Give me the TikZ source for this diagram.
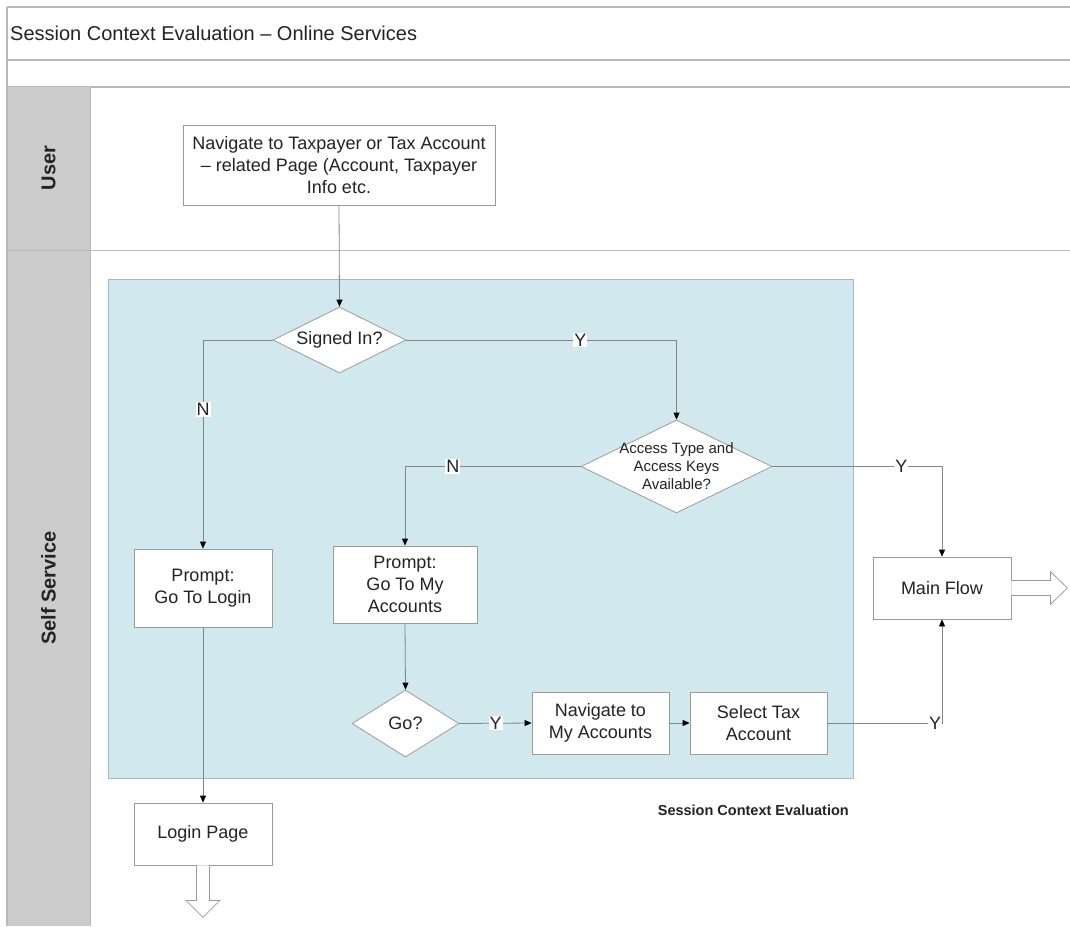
\documentclass[tikz,border=0pt]{standalone}
\usepackage{fontspec}
\setmainfont{Liberation Sans}
\usetikzlibrary{shapes.geometric,arrows.meta}

\definecolor{lanegray}{RGB}{204,204,204}
\definecolor{frameline}{RGB}{185,185,185}
\definecolor{poolblue}{RGB}{209,232,238}
\definecolor{pooledge}{RGB}{165,185,190}
\definecolor{boxedge}{RGB}{155,155,155}
\definecolor{wire}{RGB}{125,135,140}
\definecolor{ink}{RGB}{35,35,35}

\begin{document}
\begin{tikzpicture}[x=1pt,y=-1pt,
  txt/.style={font=\fontsize{18}{22}\selectfont, text=ink},
  stepbox/.style={draw=boxedge, fill=white, line width=0.8pt, align=center, inner sep=0pt, txt},
  decision/.style={diamond, draw=boxedge, fill=white, line width=0.8pt, inner sep=0pt, align=center, txt},
  flow/.style={draw=wire, line width=0.8pt, -{Triangle[length=7pt,width=6pt,color=black]}},
  yn/.style={fill=white, inner sep=1pt, txt},
  lanetitle/.style={rotate=90, text=ink, font=\bfseries\fontsize{20}{24}\selectfont},
  frame/.style={draw=frameline, line width=1.4pt},
  hollow/.style={draw=boxedge, fill=white, line width=0.8pt, line join=miter}
]
\useasboundingbox (0,0) rectangle (1070,926);

% header rows and lane grid
\draw[frame] (7,7) -- (1070,7);
\draw[frame] (7,60) -- (1070,60);
\draw[frame] (7,87) -- (1070,87);
\fill[lanegray] (7,87) rectangle (90,926);
\draw[frame] (7,7) -- (7,926);
\draw[draw=frameline, line width=0.8pt] (90,87) -- (90,926);
\draw[draw=frameline, line width=0.8pt] (7,250) -- (1070,250);

\node[anchor=west, inner sep=0pt, text=ink, font=\fontsize{20}{24}\selectfont] (title) at (10,33)
  {Session Context Evaluation – Online Services};
\node[lanetitle] (laneuser) at (48.5,168) {User};
\node[lanetitle] (laneself) at (48.5,588) {Self Service};

% session context group
\draw[fill=poolblue, draw=pooledge, line width=0.8pt] (108,279) rectangle (853,778);
\node[anchor=east, inner sep=0pt, text=ink, font=\bfseries\fontsize{14.5}{17}\selectfont] (poolname) at (849,810)
  {Session Context Evaluation};

% steps
\node[stepbox, minimum width=312, minimum height=80] (nav) at (339,165)
  {Navigate to Taxpayer or Tax Account\\– related Page (Account, Taxpayer\\Info etc.};
\node[decision, aspect=2, minimum width=133, minimum height=66] (signed) at (339.5,340) {Signed In?};
\node[decision, minimum width=191, minimum height=93,
  label={[text=ink, align=center, font=\fontsize{15}{18}\selectfont]center:Access Type and\\Access Keys\\Available?}]
  (access) at (676.5,466.5) {};
\node[stepbox, minimum width=138, minimum height=78] (login) at (203,588) {Prompt:\\Go To Login};
\node[stepbox, minimum width=144, minimum height=77] (pmy) at (405,584.5) {Prompt:\\Go To My\\Accounts};
\node[decision, aspect=1.6, minimum width=107, minimum height=67] (go) at (405.5,723.5) {Go?};
\node[stepbox, minimum width=137, minimum height=62] (navacc) at (600.5,723) {Navigate to\\My Accounts};
\node[stepbox, minimum width=137, minimum height=62] (sel) at (758.5,723) {Select Tax\\Account};
\node[stepbox, minimum width=138, minimum height=62] (main) at (942,588) {Main Flow};
\node[stepbox, minimum width=138, minimum height=62] (lpage) at (203,834) {Login Page};

% connectors
\draw[flow] (nav.south) -- (signed.north);
\draw[flow] (signed.east) -| node[yn, pos=0.322] {Y} (access.north);
\draw[flow] (signed.west) -| node[yn, pos=0.667] {N} (login.north);
\draw[flow] (access.west) -| node[yn, pos=0.364] {N} (pmy.north);
\draw[flow] (access.east) -| node[yn, pos=0.38] {Y} (main.north);
\draw[flow] (pmy.south) -- (go.north);
\draw[flow] (go.east) -- node[yn, pos=0.5] {Y} (navacc.west);
\draw[flow] (navacc.east) -- (sel.west);
\draw[flow] (sel.east) -| node[yn, pos=0.47] {Y} (main.south);
\draw[flow] (login.south) -- (lpage.north);

% off-page continuations
\draw[hollow] (main.east) ++(0,-7.5) -- ++(39,0) -- ++(0,-9) -- ++(17,16.5) -- ++(-17,16.5) -- ++(0,-9) -- ++(-39,0);
\draw[hollow] (lpage.south) ++(-6.5,0) -- ++(0,35) -- ++(-10.5,0) -- ++(17,17) -- ++(17,-17) -- ++(-10.5,0) -- ++(0,-35);
\end{tikzpicture}
\end{document}
